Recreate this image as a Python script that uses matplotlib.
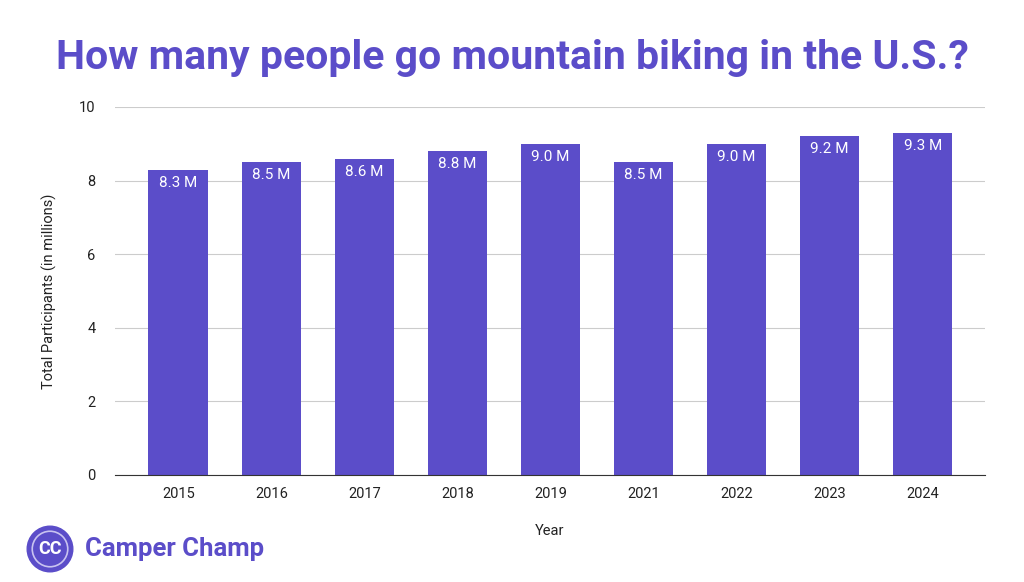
import matplotlib.pyplot as plt
from matplotlib.patches import Circle

plt.rcParams['font.family'] = ['Roboto', 'DejaVu Sans']

years = ['2015', '2016', '2017', '2018', '2019', '2021', '2022', '2023', '2024']
participants = [8.3, 8.5, 8.6, 8.8, 9.0, 8.5, 9.0, 9.2, 9.3]
labels = ['8.3 M', '8.5 M', '8.6 M', '8.8 M', '9.0 M', '8.5 M', '9.0 M', '9.2 M', '9.3 M']

purple = '#5b4dc9'

fig = plt.figure(figsize=(10.24, 5.82), dpi=100)
ax = fig.add_axes([115 / 1024, 1 - 475 / 582, 870 / 1024, 368 / 582])

x = range(len(years))
ax.bar(x, participants, width=0.64, color=purple, zorder=3)
for i, (v, lab) in enumerate(zip(participants, labels)):
    ax.annotate(lab, (i, v), xytext=(0, -13), textcoords='offset pixels',
                ha='center', va='center', color='white', fontsize=11, zorder=4)

ax.set_xlim(-0.68, 8.67)
ax.set_ylim(0, 10)
ax.set_yticks([0, 2, 4, 6, 8, 10])
ax.set_xticks(list(x))
ax.set_xticklabels(years)
ax.tick_params(axis='both', length=0, labelsize=10.5, colors='#222222')
ax.tick_params(axis='y', pad=14)
ax.tick_params(axis='x', pad=9)
ax.grid(axis='y', color='#cccccc', linewidth=0.8, zorder=0)
for s in ['top', 'right', 'left']:
    ax.spines[s].set_visible(False)
ax.spines['bottom'].set_color('#333333')
ax.spines['bottom'].set_zorder(5)

ax.set_ylabel('Total Participants (in millions)', fontsize=10.5, color='#222222', labelpad=16)
ax.set_xlabel('Year', fontsize=10.5, color='#222222', labelpad=16)

fig.text(0.5, 1 - 58 / 582, 'How many people go mountain biking in the U.S.?',
         ha='center', va='center', fontsize=29.5, fontweight='bold', color=purple)

# logo
logo = fig.add_axes([26 / 1024, 1 - 573 / 582, 48 / 1024, 48 / 582])
logo.set_xlim(-1, 1)
logo.set_ylim(-1, 1)
logo.set_aspect('equal')
logo.axis('off')
logo.add_patch(Circle((0, 0), 0.95, color=purple))
logo.add_patch(Circle((0, 0), 0.74, fill=False, ec='#c9c3f0', lw=1.2))
logo.text(0, -0.02, 'CC', ha='center', va='center', color='white', fontsize=13, fontweight='bold')
fig.text(85 / 1024, 1 - 549 / 582, 'Camper Champ', ha='left', va='center',
         fontsize=18.5, fontweight='bold', color=purple)

fig.savefig('out.png', dpi=100)
